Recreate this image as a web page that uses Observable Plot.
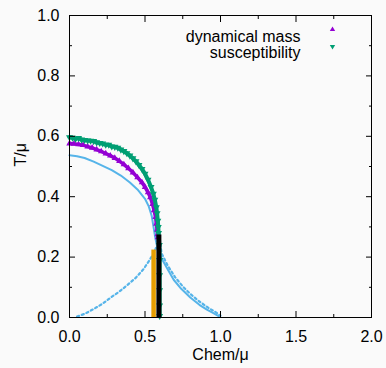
<!DOCTYPE html>
<html>
<head>
<meta charset="utf-8">
<script src="https://cdn.jsdelivr.net/npm/d3@7"></script>
<script src="https://cdn.jsdelivr.net/npm/@observablehq/plot@0.6"></script>
<style>
  html, body { margin: 0; padding: 0; background: #fafafa; }
  #chart svg { background: #fafafa; display: block; }
</style>
</head>
<body>
<div id="chart"></div>
<script>
// ---- data ----
const seriesNames = ["dynamical mass", "susceptibility"];

const dynChem = [0.00,0.03,0.06,0.09,0.12,0.15,0.18,0.21,0.24,0.27,0.30,0.33,0.36,0.39,0.42,0.45,0.48,0.50,0.52,0.535,0.55,0.56,0.57,0.575,0.58,0.583,0.585];
const dynT    = [0.576,0.575,0.573,0.571,0.566,0.562,0.556,0.550,0.543,0.536,0.528,0.518,0.507,0.494,0.480,0.464,0.447,0.432,0.414,0.398,0.375,0.355,0.332,0.310,0.290,0.275,0.265];

const susChem = [0.00,0.02,0.04,0.06,0.08,0.10,0.12,0.14,0.16,0.18,0.20,0.22,0.24,0.26,0.28,0.30,0.32,0.34,0.36,0.38,0.40,0.42,0.44,0.46,0.48,0.50,0.52,0.54,0.555,0.565,0.575,0.58,0.585,0.588,0.59,0.595,0.597,0.597,0.597,0.597,0.597];
const susT    = [0.597,0.595,0.592,0.594,0.589,0.588,0.586,0.585,0.584,0.580,0.578,0.576,0.572,0.572,0.566,0.565,0.562,0.556,0.551,0.544,0.536,0.527,0.517,0.505,0.492,0.476,0.456,0.432,0.410,0.390,0.365,0.345,0.320,0.300,0.280,0.240,0.190,0.140,0.090,0.040,0.005];

const upperChem = [0.00,0.05,0.10,0.16,0.22,0.28,0.34,0.40,0.45,0.50,0.525,0.545,0.558,0.568,0.578,0.59,0.61,0.65,0.69,0.74,0.80,0.86,0.91,0.95,0.99];
const upperT    = [0.537,0.534,0.528,0.516,0.502,0.488,0.470,0.447,0.424,0.393,0.368,0.335,0.295,0.265,0.240,0.220,0.195,0.160,0.125,0.095,0.066,0.042,0.026,0.015,0.004];

const lowerChem = [0.05,0.10,0.16,0.22,0.27,0.33,0.38,0.44,0.49,0.53,0.56,0.58,0.595,0.61,0.65,0.70,0.75,0.80,0.86,0.92,0.97,1.00];
const lowerT    = [0.003,0.012,0.028,0.046,0.065,0.086,0.106,0.132,0.160,0.190,0.215,0.240,0.265,0.212,0.172,0.133,0.103,0.078,0.053,0.032,0.017,0.006];

const orangeChem = [0.557,0.557];
const orangeT    = [0.000,0.225];
const blackChem  = [0.592,0.592];
const blackT     = [0.000,0.275];

const xTicks = [0, 0.5, 1.0, 1.5, 2.0];
const xMinor = [0.25, 0.75, 1.25, 1.75];
const yTicks = [0, 0.2, 0.4, 0.6, 0.8, 1.0];
const yMinor = [0.1, 0.3, 0.5, 0.7, 0.9];
const xLabel = "Chem/μ";
const yLabel = "T/μ";

// ---- build tables ----
const zip = (xs, ys) => xs.map((x, i) => ({x, y: ys[i]}));
const dyn = zip(dynChem, dynT);
const sus = zip(susChem, susT);
const upper = zip(upperChem, upperT);
const lower = zip(lowerChem, lowerT);
const orange = zip(orangeChem, orangeT);
const black = zip(blackChem, blackT);

const triDown = {
  draw(context, size) {
    const y = -Math.sqrt(size / (Math.sqrt(3) * 3));
    context.moveTo(0, -y * 2);
    context.lineTo(-Math.sqrt(3) * y, y);
    context.lineTo(Math.sqrt(3) * y, y);
    context.closePath();
  }
};

const PURPLE = "#9400d3", GREEN = "#009e73", BLUE = "#56b4e9", ORANGE = "#e69f00";
const FONT = 16;

const chart = Plot.plot({
  width: 386,
  height: 368,
  marginLeft: 69,
  marginRight: 15,
  marginTop: 15,
  marginBottom: 51,
  style: {fontFamily: "'Liberation Sans', Arial, sans-serif", fontSize: FONT + "px", background: "#fafafa", color: "black"},
  x: {domain: [0, 2]},
  y: {domain: [0, 1]},
  marks: [
    // data
    Plot.line(upper, {x: "x", y: "y", stroke: BLUE, strokeWidth: 2}),
    Plot.line(lower, {x: "x", y: "y", stroke: BLUE, strokeWidth: 2.2, strokeDasharray: "2.2,2.8"}),
    Plot.line(dyn, {x: "x", y: "y", stroke: PURPLE, strokeWidth: 3.5}),
    Plot.dot(dyn, {x: "x", y: "y", fill: PURPLE, symbol: "triangle", r: 2.4}),
    Plot.line(sus, {x: "x", y: "y", stroke: GREEN, strokeWidth: 4}),
    Plot.dot(sus, {x: "x", y: "y", fill: GREEN, symbol: triDown, r: 2.6}),
    Plot.line(orange, {x: "x", y: "y", stroke: ORANGE, strokeWidth: 4.5, strokeLinecap: "butt"}),
    Plot.line(black, {x: "x", y: "y", stroke: "black", strokeWidth: 5, strokeLinecap: "butt"}),
    // frame and inward ticks (gnuplot style)
    Plot.frame({stroke: "black", strokeWidth: 1}),
    Plot.axisX(xTicks, {anchor: "bottom", tickSize: -6, tickFormat: () => "", label: null}),
    Plot.axisX(xTicks, {anchor: "top", tickSize: -6, tickFormat: () => "", label: null}),
    Plot.axisX(xMinor, {anchor: "bottom", tickSize: -3, tickFormat: () => "", label: null}),
    Plot.axisX(xMinor, {anchor: "top", tickSize: -3, tickFormat: () => "", label: null}),
    Plot.axisY(yTicks, {anchor: "left", tickSize: -6, tickFormat: () => "", label: null}),
    Plot.axisY(yTicks, {anchor: "right", tickSize: -6, tickFormat: () => "", label: null}),
    Plot.axisY(yMinor, {anchor: "left", tickSize: -3, tickFormat: () => "", label: null}),
    Plot.axisY(yMinor, {anchor: "right", tickSize: -3, tickFormat: () => "", label: null}),
    Plot.axisX(xTicks, {anchor: "bottom", tickSize: 0, tickPadding: 13, tickFormat: d => d.toFixed(1), label: null, fontSize: FONT, fill: "black"}),
    Plot.axisY(yTicks, {anchor: "left", tickSize: 0, tickPadding: 10, tickFormat: d => d.toFixed(1), label: null, fontSize: FONT, fill: "black"}),
    // axis titles
    Plot.text([xLabel], {frameAnchor: "bottom", dy: 42, fontSize: FONT, fill: "black"}),
    Plot.text([yLabel], {frameAnchor: "left", dx: -49, rotate: -90, fontSize: FONT, fill: "black"}),
    // legend
    Plot.text([seriesNames[0]], {frameAnchor: "top-right", dx: -71, dy: 15, textAnchor: "end", fontSize: FONT, fill: "black"}),
    Plot.text([seriesNames[1]], {frameAnchor: "top-right", dx: -71, dy: 31, textAnchor: "end", fontSize: FONT, fill: "black"}),
    Plot.dot([seriesNames[0]], {frameAnchor: "top-right", dx: -39, dy: 14, symbol: "triangle", r: 2, fill: PURPLE}),
    Plot.dot([seriesNames[1]], {frameAnchor: "top-right", dx: -39, dy: 31, symbol: triDown, r: 2, fill: GREEN})
  ]
});
document.getElementById("chart").appendChild(chart);
</script>
</body>
</html>
